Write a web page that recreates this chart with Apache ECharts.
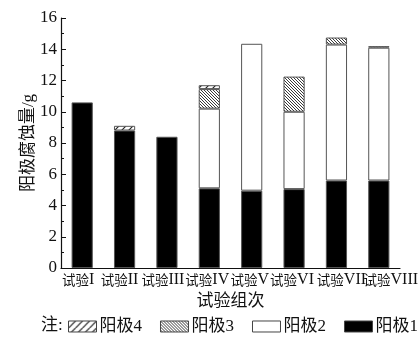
<!DOCTYPE html>
<html>
<head>
<meta charset="utf-8">
<script src="https://cdn.jsdelivr.net/npm/echarts@6/dist/echarts.min.js"></script>
<style>
  html, body { margin: 0; padding: 0; background: #fff; }
  #chart { width: 419px; height: 340px; }
</style>
</head>
<body>
<div id="chart"></div>
<script>
// Anode corrosion loss (g) per test group, stacked by anode
const categories = ['试验I', '试验II', '试验III', '试验IV', '试验V', '试验VI', '试验VII', '试验VIII'];
const anode1 = [10.6, 8.8, 8.4, 5.1, 4.95, 5.05, 5.6, 5.6];
const anode2 = ['-', '-', '-', 5.1, 9.4, 4.95, 8.7, 8.5];
const anode3 = ['-', '-', '-', 1.25, '-', 2.25, 0.45, 0.1];
const anode4 = ['-', 0.3, '-', 0.25, '-', '-', '-', '-'];
const yTicks = [0, 2, 4, 6, 8, 10, 12, 14, 16];

const SERIF = '"Liberation Serif", serif';
const FONT = '"Liberation Serif", "Noto Sans CJK SC", serif';
const CJK = '"Noto Sans CJK SC", sans-serif';

// horizontal nudge (px) of each category label so the long ones don't collide
const labelNudge = [-4, -5, -4, -2, -2, -2, 5, 12];

// Hatch fill patterns drawn on small canvases
function hatch(size, dir, lineW) {
  const c = document.createElement('canvas');
  c.width = size; c.height = size;
  const g = c.getContext('2d');
  g.fillStyle = '#fff';
  g.fillRect(0, 0, size, size);
  g.strokeStyle = '#222';
  g.lineWidth = lineW;
  g.beginPath();
  for (let k = -1; k <= 1; k++) {
    if (dir > 0) { // "/"
      g.moveTo(k * size, size);
      g.lineTo(k * size + size, 0);
    } else {       // "\"
      g.moveTo(k * size, 0);
      g.lineTo(k * size + size, size);
    }
  }
  g.stroke();
  return { image: c, repeat: 'repeat' };
}

const sparseFwd = hatch(7, 1, 1.2);
const denseBack = hatch(3, -1, 0.9);

// Category labels: Chinese prefix in a sans face, Roman numeral in serif;
// a one-sided padding shifts each centred label by its nudge
const labelRich = {};
labelNudge.forEach((d, i) => {
  labelRich['c' + i] = {
    fontFamily: CJK, fontSize: 13.5, color: '#111', verticalAlign: 'middle',
    padding: [0, 0, 0, d > 0 ? 2 * d : 0]
  };
  labelRich['r' + i] = {
    fontFamily: SERIF, fontSize: 16, color: '#111', verticalAlign: 'middle',
    padding: [0, d < 0 ? -2 * d : 0, 0, 0]
  };
});
function catLabel(v, i) {
  const m = v.match(/^([^A-Z]+)([A-Z]+)$/);
  return '{c' + i + '|' + m[1] + '}{r' + i + '|' + m[2] + '}';
}

const chart = echarts.init(document.getElementById('chart'), null, { renderer: 'canvas' });

const border = { borderColor: '#555', borderWidth: 1 };

chart.setOption({
  backgroundColor: '#fff',
  animation: false,
  grid: { left: 61, right: 19, top: 18, bottom: 72, containLabel: false, outerBoundsMode: 'none' },
  graphic: [{
    type: 'text', left: 41, top: 317,
    style: { text: '注:', font: '17px ' + FONT, fill: '#111' }
  }],
  legend: {
    left: 68, top: 318, width: 400, padding: 0,
    icon: 'rect',
    itemWidth: 28, itemHeight: 11, itemGap: 18,
    textStyle: { fontFamily: FONT, fontSize: 17, color: '#111', padding: [0, 0, 0, -2] },
    itemStyle: { borderColor: '#444', borderWidth: 1 },
    data: ['阳极4', '阳极3', '阳极2', '阳极1']
  },
  xAxis: {
    type: 'category',
    data: categories,
    name: '试验组次',
    nameLocation: 'middle',
    nameGap: 25,
    nameMoveOverlap: false,
    nameTextStyle: { fontFamily: FONT, fontSize: 17, color: '#111' },
    axisLine: { lineStyle: { color: '#111', width: 1.2 } },
    axisTick: { show: false },
    axisLabel: {
      fontFamily: FONT, fontSize: 13, color: '#111', margin: 4, interval: 0,
      formatter: catLabel,
      rich: labelRich
    }
  },
  yAxis: {
    type: 'value',
    min: 0, max: 16, interval: 2,
    name: '阳极腐蚀量/g',
    nameLocation: 'middle',
    nameGap: 24,
    nameMoveOverlap: false,
    nameTextStyle: { fontFamily: FONT, fontSize: 17, color: '#111' },
    axisLine: { show: true, lineStyle: { color: '#111', width: 1.2 } },
    axisTick: { show: true, inside: true, length: 5, lineStyle: { color: '#111' } },
    minorTick: { show: true, splitNumber: 2, length: 3, lineStyle: { color: '#111' } },
    splitLine: { show: false },
    axisLabel: {
      fontFamily: FONT, fontSize: 17, color: '#111', margin: 4,
      formatter: v => (yTicks.includes(v) ? String(v) : '')
    }
  },
  series: [
    { name: '阳极1', type: 'bar', stack: 'a', barWidth: '50%', data: anode1,
      itemStyle: Object.assign({ color: '#000' }, border) },
    { name: '阳极2', type: 'bar', stack: 'a', data: anode2,
      itemStyle: Object.assign({ color: '#fff' }, border) },
    { name: '阳极3', type: 'bar', stack: 'a', data: anode3,
      itemStyle: Object.assign({ color: denseBack }, border) },
    { name: '阳极4', type: 'bar', stack: 'a', data: anode4,
      itemStyle: Object.assign({ color: sparseFwd }, border) }
  ]
});
</script>
</body>
</html>
